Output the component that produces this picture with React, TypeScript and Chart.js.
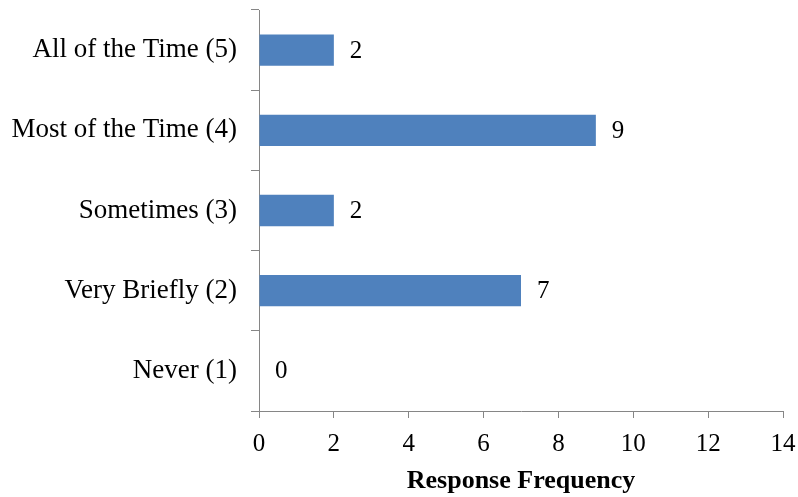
import React, { useEffect, useRef } from "react";
import { Chart, registerables } from "chart.js";

Chart.register(...registerables);

const categories = [
  "All of the Time (5)",
  "Most of the Time (4)",
  "Sometimes (3)",
  "Very Briefly (2)",
  "Never (1)",
];
const frequencies = [2, 9, 2, 7, 0];
const xTitle = "Response Frequency";
const xMin = 0;
const xMax = 14;
const xStep = 2;

const FONT = "'Liberation Serif', 'Times New Roman', serif";
const AXIS = "#868686";

const valueLabels = {
  id: "valueLabels",
  afterDatasetsDraw(chart: any) {
    const ctx = chart.ctx;
    const meta = chart.getDatasetMeta(0);
    const data = chart.data.datasets[0].data;
    ctx.save();
    ctx.font = `25px ${FONT}`;
    ctx.fillStyle = "#000";
    ctx.textAlign = "left";
    ctx.textBaseline = "middle";
    meta.data.forEach((bar: any, i: number) => {
      ctx.fillText(String(data[i]), bar.x + 16, bar.y + 1);
    });
    ctx.restore();
  },
};

export default function App() {
  const ref = useRef<HTMLCanvasElement | null>(null);
  useEffect(() => {
    document.body.style.margin = "0";
    if (!ref.current) return;
    const chart = new Chart(ref.current, {
      type: "bar",
      data: {
        labels: categories,
        datasets: [
          {
            data: frequencies,
            backgroundColor: "#4F81BD",
            borderWidth: 0,
            categoryPercentage: 1,
            barPercentage: 0.39,
          },
        ],
      },
      options: {
        indexAxis: "y",
        animation: false,
        responsive: false,
        maintainAspectRatio: false,
        layout: { padding: { top: 10, right: 15, left: 0, bottom: 0 } },
        plugins: {
          legend: { display: false },
          tooltip: { enabled: false },
        },
        scales: {
          x: {
            min: xMin,
            max: xMax,
            ticks: {
              stepSize: xStep,
              color: "#000",
              font: { family: FONT, size: 25 },
              padding: 11,
              maxRotation: 0,
            },
            grid: {
              drawOnChartArea: false,
              drawTicks: true,
              tickLength: 7,
              color: AXIS,
              tickColor: AXIS,
            },
            border: { color: AXIS, width: 1 },
            title: {
              display: true,
              text: xTitle,
              color: "#000",
              font: { family: FONT, size: 26, weight: "bold" },
              padding: { top: 2, bottom: 0 },
            },
            afterFit: (s: any) => {
              s.height = 86;
              s.paddingLeft = 0;
              s.paddingRight = 0;
            },
          },
          y: {
            ticks: {
              color: "#000",
              font: { family: FONT, size: 27 },
              padding: 14,
            },
            grid: {
              offset: true,
              drawOnChartArea: false,
              drawTicks: true,
              tickLength: 8,
              color: AXIS,
              tickColor: AXIS,
            },
            border: { color: AXIS, width: 1 },
            afterFit: (s: any) => {
              s.width = 259;
              s.paddingTop = 0;
              s.paddingBottom = 0;
            },
          },
        },
      },
      plugins: [valueLabels],
    });
    return () => chart.destroy();
  }, []);
  return (
    <div style={{ width: 798, height: 497 }}>
      <canvas ref={ref} width={798} height={497} style={{ display: "block" }} />
    </div>
  );
}
